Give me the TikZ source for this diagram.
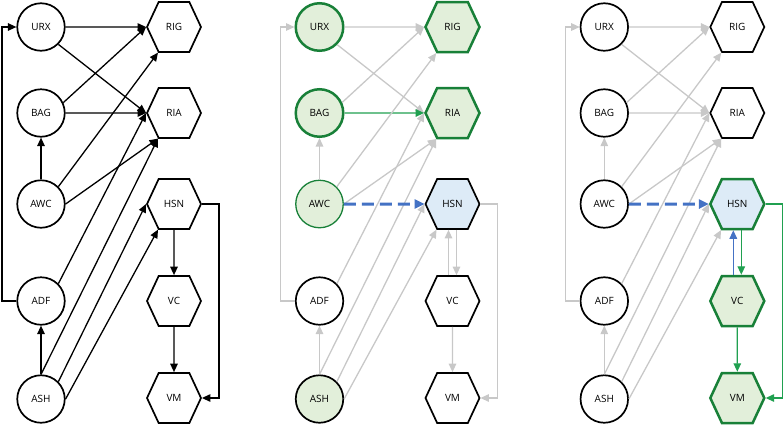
\documentclass[tikz,border=0pt]{standalone}
\usepackage{fontspec}
\setmainfont{Open Sans}
\usetikzlibrary{shapes.symbols,arrows.meta}
\definecolor{lgray}{RGB}{200,200,200}
\definecolor{ngreen}{RGB}{24,128,56}
\definecolor{egreen}{RGB}{32,160,80}
\definecolor{fgreen}{RGB}{226,239,218}
\definecolor{fblue}{RGB}{221,235,247}
\definecolor{lblue}{RGB}{68,114,196}
\tikzset{
  cell/.style={circle,draw,fill=white,line width=1.7pt,minimum size=47.5pt,inner sep=0pt,
    font=\fontsize{10}{11}\selectfont},
  hexa/.style={signal,signal to=west and east,signal pointer angle=130,draw,fill=white,
    line width=1.7pt,minimum width=54pt,minimum height=50pt,inner sep=0pt,
    font=\fontsize{10}{11}\selectfont},
  lit/.style={fill=fgreen,draw=ngreen,line width=2.5pt},
  target/.style={fill=fblue},
  con/.style={line width=1.3pt,-{Triangle[length=8.5pt,width=7.5pt]}},
  faded/.style={con,lgray},
  hot/.style={con,egreen},
  cold/.style={con,lblue},
  jump/.style={line width=3pt,lblue,dash pattern=on 12pt off 6pt,-{Triangle[length=10pt,width=9pt]}}
}
\begin{document}
\begin{tikzpicture}[x=1pt,y=-1pt]
\useasboundingbox (0,0) rectangle (783,426);
% panel 1
\node[cell] (URX1) at (41,27) {URX};
\node[cell] (BAG1) at (41,113) {BAG};
\node[cell] (AWC1) at (41,204) {AWC};
\node[cell] (ADF1) at (41,301) {ADF};
\node[cell] (ASH1) at (41,399) {ASH};
\node[hexa] (RIG1) at (174,27) {RIG};
\node[hexa] (RIA1) at (174,113) {RIA};
\node[hexa] (HSN1) at (174,204) {HSN};
\node[hexa] (VC1) at (174,301) {VC};
\node[hexa] (VM1) at (174,398) {VM};
\draw[con] (ADF1.west) -- ++(-14.5,0) |- (URX1.west);
\draw[con] (URX1) -- (RIG1);
\draw[con] (URX1.-45) -- (RIA1.west);
\draw[con] (BAG1.25) -- (RIG1.west);
\draw[con] (BAG1) -- (RIA1);
\draw[con] (AWC1) -- (BAG1);
\draw[con] (AWC1.45) -- (RIG1.238);
\draw[con] (AWC1.east) -- (RIA1.238);
\draw[con] (ADF1.45) -- (RIA1.west);
\draw[con] (ASH1) -- (ADF1);
\draw[con] (ASH1.north) -- (RIA1.238);
\draw[con] (ASH1.45) -- (HSN1.west);
\draw[con] (ASH1.east) -- (HSN1.238);
\draw[con] (HSN1) -- (VC1);
\draw[con] (VC1) -- (VM1);
\draw[con] (HSN1.east) -- ++(17,0) |- (VM1.east);
% panel 2
\begin{scope}[xshift=278.5pt]
\node[cell,lit] (URX2) at (41,27) {URX};
\node[cell,lit] (BAG2) at (41,113) {BAG};
\node[cell,lit,line width=1.3pt] (AWC2) at (41,204) {AWC};
\node[cell] (ADF2) at (41,301) {ADF};
\node[cell,fill=fgreen] (ASH2) at (41,399) {ASH};
\node[hexa,lit] (RIG2) at (174,27) {RIG};
\node[hexa,lit] (RIA2) at (174,113) {RIA};
\node[hexa,target] (HSN2) at (174,204) {HSN};
\node[hexa] (VC2) at (174,301) {VC};
\node[hexa] (VM2) at (174,398) {VM};
\draw[faded] (ADF2.west) -- ++(-14.5,0) |- (URX2.west);
\draw[faded] (URX2) -- (RIG2);
\draw[faded] (URX2.-45) -- (RIA2.west);
\draw[faded] (BAG2.25) -- (RIG2.west);
\draw[hot] (BAG2) -- (RIA2);
\draw[faded] (AWC2) -- (BAG2);
\draw[faded] (AWC2.45) -- (RIG2.238);
\draw[faded] (AWC2.east) -- (RIA2.238);
\draw[faded] (ADF2.45) -- (RIA2.west);
\draw[faded] (ASH2) -- (ADF2);
\draw[faded] (ASH2.north) -- (RIA2.238);
\draw[faded] (ASH2.45) -- (HSN2.west);
\draw[faded] (ASH2.east) -- (HSN2.238);
\draw[jump] (AWC2) -- (HSN2);
\draw[faded] ([xshift=-4pt]VC2.north) -- ([xshift=-4pt]HSN2.south);
\draw[faded] ([xshift=4pt]HSN2.south) -- ([xshift=4pt]VC2.north);
\draw[faded] (VC2) -- (VM2);
\draw[faded] (HSN2.east) -- ++(17,0) |- (VM2.east);
\end{scope}
% panel 3
\begin{scope}[xshift=563.3pt]
\node[cell] (URX3) at (41,27) {URX};
\node[cell] (BAG3) at (41,113) {BAG};
\node[cell] (AWC3) at (41,204) {AWC};
\node[cell] (ADF3) at (41,301) {ADF};
\node[cell] (ASH3) at (41,399) {ASH};
\node[hexa] (RIG3) at (174,27) {RIG};
\node[hexa] (RIA3) at (174,113) {RIA};
\node[hexa,lit,target] (HSN3) at (174,204) {HSN};
\node[hexa,lit] (VC3) at (174,301) {VC};
\node[hexa,lit] (VM3) at (174,398) {VM};
\draw[faded] (ADF3.west) -- ++(-14.5,0) |- (URX3.west);
\draw[faded] (URX3) -- (RIG3);
\draw[faded] (URX3.-45) -- (RIA3.west);
\draw[faded] (BAG3.25) -- (RIG3.west);
\draw[faded] (BAG3) -- (RIA3);
\draw[faded] (AWC3) -- (BAG3);
\draw[faded] (AWC3.45) -- (RIG3.238);
\draw[faded] (AWC3.east) -- (RIA3.238);
\draw[faded] (ADF3.45) -- (RIA3.west);
\draw[faded] (ASH3) -- (ADF3);
\draw[faded] (ASH3.north) -- (RIA3.238);
\draw[faded] (ASH3.45) -- (HSN3.west);
\draw[faded] (ASH3.east) -- (HSN3.238);
\draw[jump] (AWC3) -- (HSN3);
\draw[cold] ([xshift=-4pt]VC3.north) -- ([xshift=-4pt]HSN3.south);
\draw[hot] ([xshift=4pt]HSN3.south) -- ([xshift=4pt]VC3.north);
\draw[hot] (VC3) -- (VM3);
\draw[hot] (HSN3.east) -- ++(17,0) |- (VM3.east);
\end{scope}
\end{tikzpicture}
\end{document}
